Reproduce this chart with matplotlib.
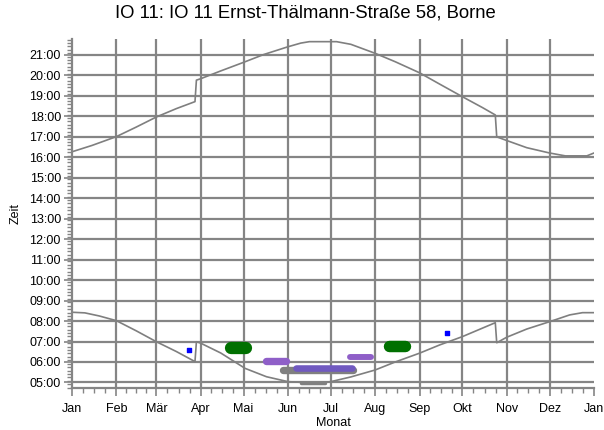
import matplotlib
matplotlib.use("Agg")
import matplotlib.pyplot as plt
import numpy as np

plt.rcParams['font.family'] = ['Liberation Sans', 'DejaVu Sans']

# Monatsanfaenge (Tag im Jahr) und Beschriftung
month_days = [0, 31, 59, 90, 120, 151, 181, 212, 243, 273, 304, 334, 365]
month_names = ['Jan', 'Feb', 'Mär', 'Apr', 'Mai', 'Jun', 'Jul', 'Aug',
               'Sep', 'Okt', 'Nov', 'Dez', 'Jan']

# Sonnenuntergang (Stunden)
sunset_day = [0, 14, 31, 45, 59, 73, 86, 87, 90, 104, 120, 134, 151, 160, 166,
              185, 195, 212, 226, 243, 257, 273, 287, 296, 297, 304, 318, 334,
              345, 360, 365]
sunset_h = [16.27, 16.58, 17.01, 17.48, 17.97, 18.38, 18.72, 19.77, 19.84,
            20.22, 20.64, 21.02, 21.40, 21.58, 21.65, 21.65, 21.52, 21.08,
            20.67, 20.13, 19.58, 18.96, 18.43, 18.07, 17.00, 16.82, 16.47,
            16.21, 16.07, 16.07, 16.21]

# Sonnenaufgang (Stunden)
sunrise_day = [0, 9, 19, 31, 45, 59, 73, 86, 87, 90, 104, 121, 136, 151, 170,
               181, 195, 212, 226, 243, 257, 273, 296, 297, 304, 318, 334, 348,
               357, 365]
sunrise_h = [8.43, 8.40, 8.25, 8.02, 7.52, 6.99, 6.51, 6.02, 6.99, 6.92, 6.44,
             5.69, 5.28, 5.04, 4.97, 5.04, 5.27, 5.61, 6.00, 6.43, 6.83, 7.24,
             7.92, 6.94, 7.21, 7.61, 7.97, 8.30, 8.41, 8.41]

# Schattenwurf-Bereiche: Tag von/bis, Uhrzeit von/bis
blob_day0 = [107, 133, 145, 154, 159, 192, 218]
blob_day1 = [126, 152, 199, 198, 178, 211, 237]
blob_lo = [6.39, 5.85, 5.45, 5.53, 4.87, 6.10, 6.48]
blob_hi = [6.99, 6.21, 5.81, 5.85, 5.04, 6.39, 7.04]
blob_color = ['#007000', '#8f5fc8', '#808080', '#7059c0', '#808080',
              '#8f5fc8', '#007000']

# Einzelpunkte
point_day = [82, 262]
point_h = [6.59, 7.40]

grid_c = '#858585'

fig = plt.figure(figsize=(6.04, 4.30), dpi=100)
ax = fig.add_axes([0.1192, 0.0977, 0.8642, 0.8116])

ax.set_xlim(0, 365)
ax.set_ylim(4.73, 21.78)

# Gitter
for h in range(5, 22):
    ax.axhline(h, color=grid_c, lw=1.6, zorder=1)
for d in month_days[1:-1]:
    ax.axvline(d, color=grid_c, lw=1.6, zorder=1)

ax.plot(sunset_day, sunset_h, color='#7f7f7f', lw=1.2, zorder=2)
ax.plot(sunrise_day, sunrise_h, color='#7f7f7f', lw=1.2, zorder=2)

# Bereiche als abgerundete Balken
px_per_h = ax.transData.transform((0, 1))[1] - ax.transData.transform((0, 0))[1]
px_per_day = ax.transData.transform((1, 0))[0] - ax.transData.transform((0, 0))[0]
for d0, d1, lo, hi, c in zip(blob_day0, blob_day1, blob_lo, blob_hi, blob_color):
    hpx = (hi - lo) * px_per_h
    r = hpx / 2 / px_per_day
    mid = (lo + hi) / 2
    ax.plot([d0 + r, d1 - r], [mid, mid], color=c, lw=hpx * 72 / fig.dpi,
            solid_capstyle='round', zorder=3)

ax.scatter(point_day, point_h, marker='s', s=12, color='#0000ff', zorder=4)

# Achsen
ax.set_xticks(month_days)
ax.set_xticklabels(month_names)
minor_x = []
for a, b in zip(month_days[:-1], month_days[1:]):
    minor_x += [a + (b - a) * k / 4 for k in (1, 2, 3)]
ax.set_xticks(minor_x, minor=True)

ax.set_yticks(range(5, 22))
ax.set_yticklabels(['%02d:00' % h for h in range(5, 22)])
ax.set_yticks(np.arange(4.75, 21.78, 1 / 6), minor=True)

for s in ['top', 'right']:
    ax.spines[s].set_visible(False)
for s in ['left', 'bottom']:
    ax.spines[s].set_color(grid_c)
    ax.spines[s].set_linewidth(1.6)

ax.tick_params(which='major', length=6, width=1.2, color=grid_c,
               labelsize=9, pad=2)
ax.tick_params(axis='x', which='major', pad=5)
ax.tick_params(which='minor', length=3.5, width=1, color=grid_c)

ax.set_xlabel('Monat', fontsize=9, labelpad=1)
ax.set_ylabel('Zeit', fontsize=9, labelpad=6)
fig.suptitle('IO 11: IO 11 Ernst-Thälmann-Straße 58, Borne', fontsize=13.3,
             x=0.505, y=0.99)

fig.savefig('out.png', dpi=100)
